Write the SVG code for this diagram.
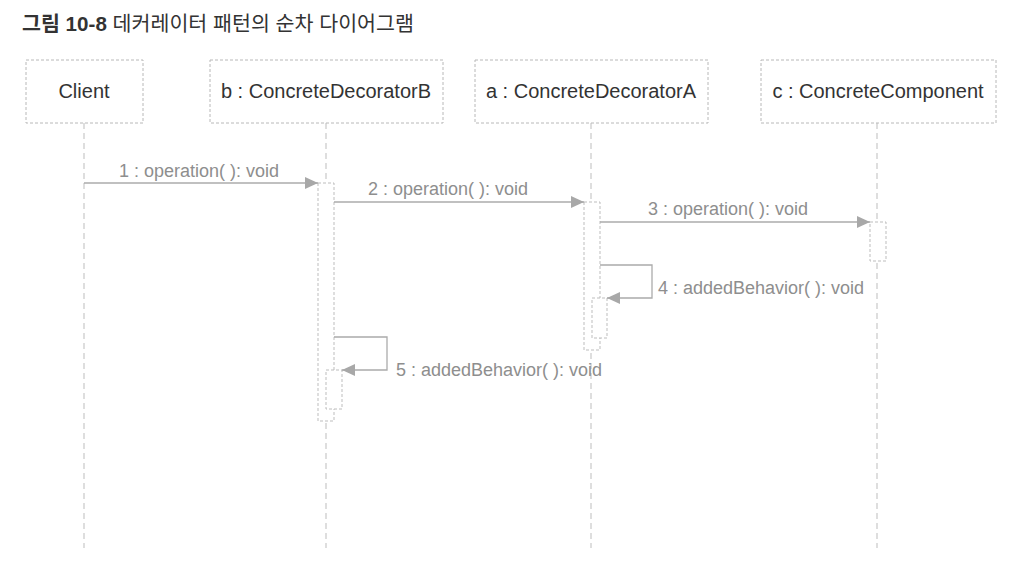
<svg xmlns="http://www.w3.org/2000/svg" width="1028" height="580" viewBox="0 0 1028 580">
<style>
.bg{fill:#ffffff}
.title{font-family:"Liberation Sans","Noto Sans CJK KR",sans-serif;font-size:20.6px;fill:#333}
.tb{font-weight:bold}
.box{fill:#fff;stroke:#b8b8b8;stroke-width:1;stroke-dasharray:3 2}
.lbl{font-family:"Liberation Sans",Arial,sans-serif;font-size:20px;fill:#333;text-anchor:middle}
.life{stroke:#bdbdbd;stroke-width:1;stroke-dasharray:6 4;fill:none}
.act{fill:#fff;stroke:#bdbdbd;stroke-width:1;stroke-dasharray:3 2}
.msg{stroke:#ababab;stroke-width:1.3;fill:none}
.mt{font-family:"Liberation Sans",Arial,sans-serif;font-size:18px;fill:#8e8e8e}
</style>
<defs>
<marker id="ah" markerUnits="userSpaceOnUse" markerWidth="14" markerHeight="12" refX="13" refY="6" orient="auto">
<path d="M0,0 L13,6 L0,12 z" fill="#a8a8a8"/>
</marker>
</defs>
<rect class="bg" x="0" y="0" width="1028" height="580"/>
<text class="title" x="22" y="31"><tspan class="tb">그림 10-8</tspan> 데커레이터 패턴의 순차 다이어그램</text>

<g id="lifelines">
<line class="life" x1="84" y1="123" x2="84" y2="548"/>
<line class="life" x1="326" y1="123" x2="326" y2="548"/>
<line class="life" x1="591" y1="123" x2="591" y2="548"/>
<line class="life" x1="877" y1="123" x2="877" y2="548"/>
</g>

<g id="client">
<rect class="box" x="26" y="60" width="117" height="63"/>
<text class="lbl" x="84" y="98">Client</text>
</g>
<g id="decoratorB">
<rect class="box" x="210" y="60" width="233" height="63"/>
<text class="lbl" x="326" y="98">b : ConcreteDecoratorB</text>
<rect class="act" x="318" y="183" width="16" height="238"/>
<rect class="act" x="326" y="370" width="16" height="39"/>
</g>
<g id="decoratorA">
<rect class="box" x="475" y="60" width="233" height="63"/>
<text class="lbl" x="591" y="98">a : ConcreteDecoratorA</text>
<rect class="act" x="584" y="202" width="16" height="148"/>
<rect class="act" x="592" y="298" width="15" height="40"/>
</g>
<g id="component">
<rect class="box" x="761" y="60" width="235" height="63"/>
<text class="lbl" x="878" y="98">c : ConcreteComponent</text>
<rect class="act" x="870" y="222" width="16" height="39"/>
</g>

<g id="connectors">
<line class="msg" x1="84" y1="183" x2="318" y2="183" marker-end="url(#ah)"/>
<text class="mt" x="119" y="177">1 : operation( ): void</text>
<line class="msg" x1="334" y1="202" x2="584" y2="202" marker-end="url(#ah)"/>
<text class="mt" x="368" y="195">2 : operation( ): void</text>
<line class="msg" x1="600" y1="222" x2="870" y2="222" marker-end="url(#ah)"/>
<text class="mt" x="648" y="215">3 : operation( ): void</text>
<polyline class="msg" points="600,265 652,265 652,298 607,298" marker-end="url(#ah)"/>
<text class="mt" x="658" y="294">4 : addedBehavior( ): void</text>
<polyline class="msg" points="334,337 387,337 387,370 342,370" marker-end="url(#ah)"/>
<text class="mt" x="396" y="376">5 : addedBehavior( ): void</text>
</g>
</svg>
